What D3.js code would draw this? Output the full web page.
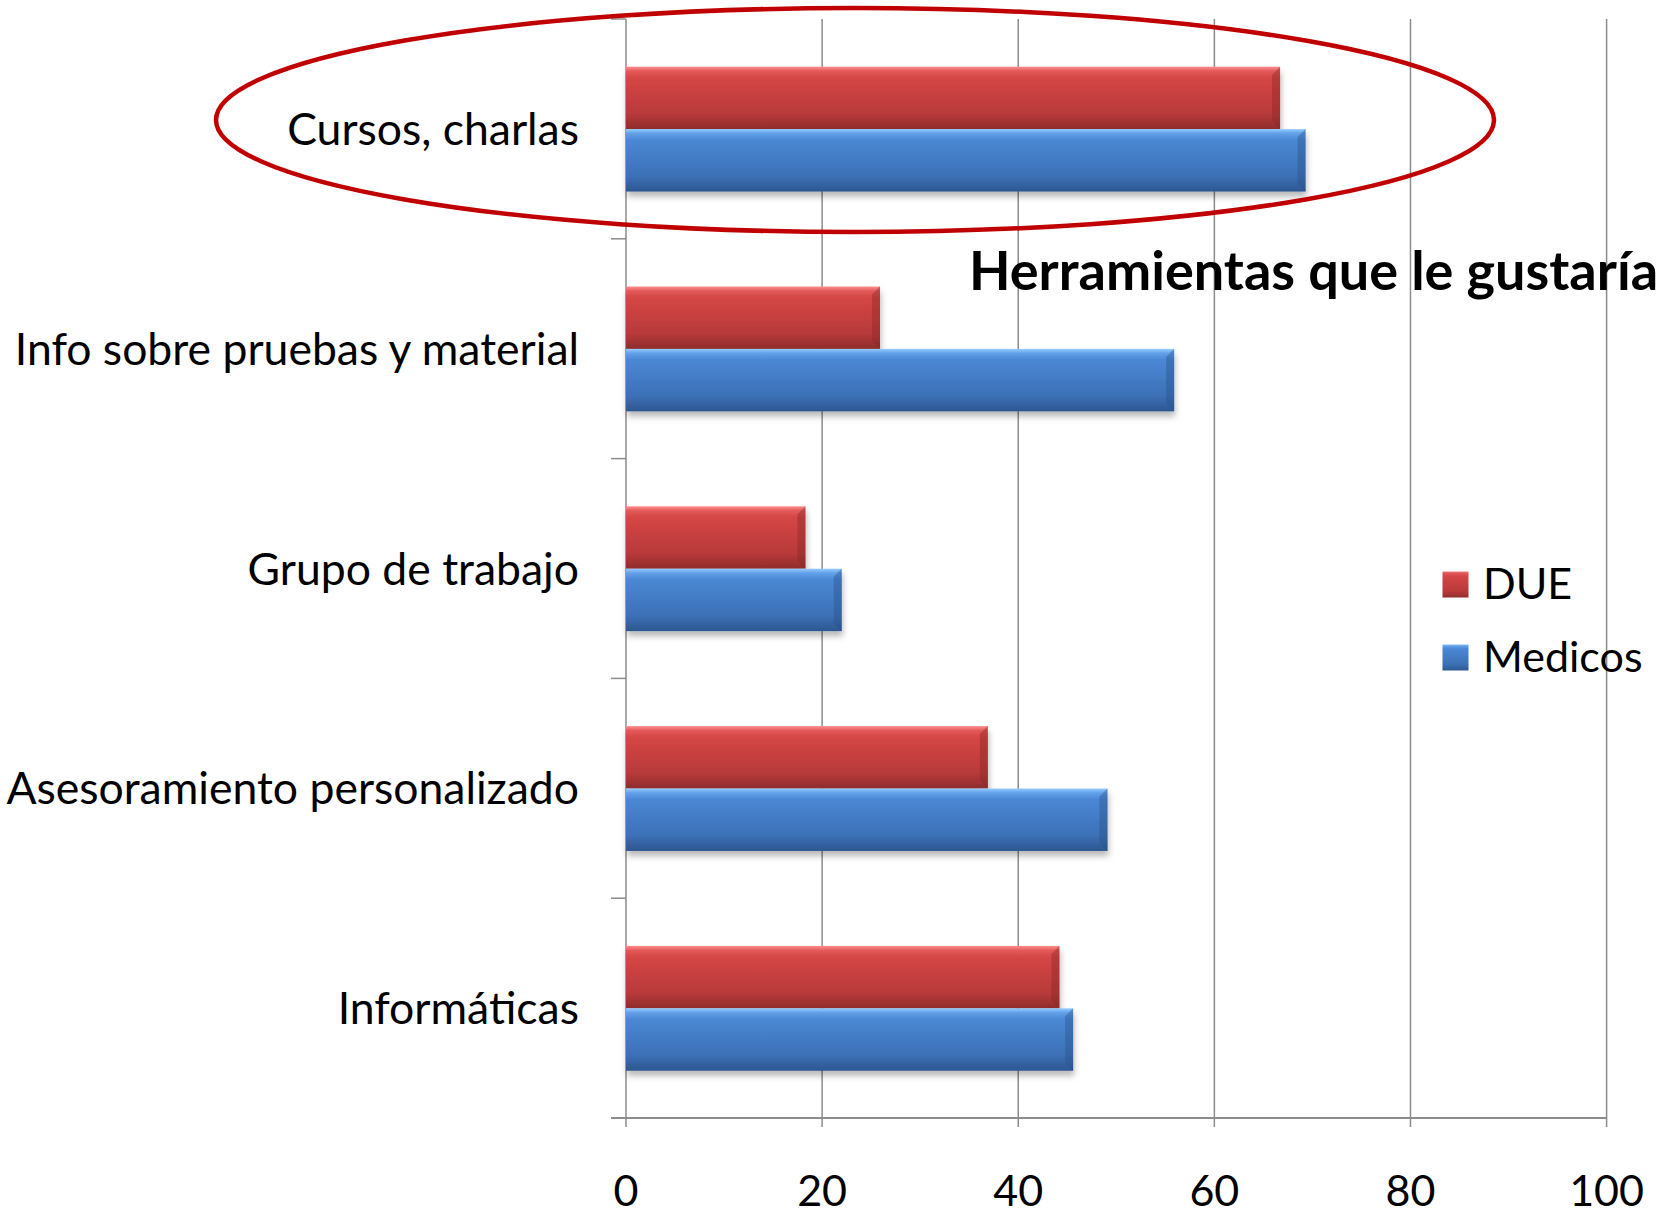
<!DOCTYPE html>
<html lang="es">
<head>
<meta charset="UTF-8">
<title>Herramientas que le gustaría</title>
<script src="https://d3js.org/d3.v7.min.js"></script>
<style>
    body { margin: 0; background: #fff; }
    text { font-family: Lato, "Open Sans", sans-serif; fill: #000; }
    .cat { font-size: 44.5px; }
    .tick-label { font-size: 43px; }
    .legend-text { font-size: 43px; }
    .title { font-size: 54px; font-weight: bold; }
</style>
</head>
<body>
<svg width="1675" height="1217"></svg>
<script>
    // data (percent)
    const categories = ["Cursos, charlas", "Info sobre pruebas y material", "Grupo de trabajo",
        "Asesoramiento personalizado", "Informáticas"];
    const seriesNames = ["DUE", "Medicos"];
    const due = [66.7, 25.9, 18.3, 36.9, 44.2];
    const medicos = [69.3, 55.9, 22.0, 49.1, 45.6];
    const xTicks = [0, 20, 40, 60, 80, 100];
    const titleText = "Herramientas que le gustaría";

    const svg = d3.select("svg");

    const plotLeft = 626, plotRight = 1606.6, plotTop = 19, plotBottom = 1118;

    const x = d3.scaleLinear().domain([0, 100]).range([plotLeft, plotRight]);
    const y = d3.scaleBand().domain(categories).range([plotTop, plotBottom]).padding(0);
    const bw = y.bandwidth();
    const y1 = d3.scaleBand().domain(seriesNames).range([bw * 0.217, bw * 0.785]).padding(0);

    // gradients and shadow
    const defs = svg.append("defs");
    const grads = {
        DUE: [["0%", "#ff8f8f"], ["7%", "#e35a5a"], ["18%", "#d54646"], ["75%", "#b83a3a"], ["100%", "#8f2c2c"]],
        Medicos: [["0%", "#93ccff"], ["7%", "#62a0e8"], ["18%", "#4a87d4"], ["75%", "#3c71b6"], ["100%", "#2d5690"]]
    };
    Object.entries(grads).forEach(([k, stops]) => {
        const g = defs.append("linearGradient").attr("id", "g-" + k)
            .attr("x1", 0).attr("y1", 0).attr("x2", 0).attr("y2", 1);
        stops.forEach(s => g.append("stop").attr("offset", s[0]).attr("stop-color", s[1]));
    });
    const f = defs.append("filter").attr("id", "shadow")
        .attr("x", "-5%").attr("y", "-20%").attr("width", "110%").attr("height", "160%");
    f.append("feDropShadow").attr("dx", 1).attr("dy", 5).attr("stdDeviation", 3)
        .attr("flood-color", "#000").attr("flood-opacity", 0.28);

    // gridlines
    svg.append("g").selectAll("line").data(xTicks).join("line")
        .attr("x1", d => x(d)).attr("x2", d => x(d))
        .attr("y1", plotTop).attr("y2", plotBottom + 9)
        .attr("stroke", "#8c8c8c").attr("stroke-width", 1.5);

    // horizontal axis line
    svg.append("line").attr("x1", plotLeft - 15).attr("x2", plotRight)
        .attr("y1", plotBottom).attr("y2", plotBottom)
        .attr("stroke", "#8c8c8c").attr("stroke-width", 2);

    // category tick marks
    const bounds = categories.map(c => y(c)).concat([plotBottom]);
    svg.append("g").selectAll("line").data(bounds).join("line")
        .attr("x1", plotLeft - 15).attr("x2", plotLeft)
        .attr("y1", d => d).attr("y2", d => d)
        .attr("stroke", "#8c8c8c").attr("stroke-width", 1.5);

    // bars
    const rows = categories.map((c, i) => ({ cat: c, vals: [{ s: "DUE", v: due[i] }, { s: "Medicos", v: medicos[i] }] }));
    const groups = svg.append("g").selectAll("g").data(rows).join("g")
        .attr("transform", d => `translate(0,${y(d.cat)})`);

    const bar = groups.selectAll("g").data(d => d.vals).join("g")
        .attr("filter", "url(#shadow)");
    const bh = y1.bandwidth();
    const bev = 8;
    bar.append("rect")
        .attr("x", plotLeft).attr("y", d => y1(d.s))
        .attr("width", d => x(d.v) - plotLeft).attr("height", bh)
        .attr("fill", d => "url(#g-" + d.s + ")");
    // right bevel
    bar.append("path")
        .attr("d", d => {
            const x2 = x(d.v), yy = y1(d.s);
            return `M${x2},${yy}L${x2 - bev},${yy + bev}L${x2 - bev},${yy + bh - bev}L${x2},${yy + bh}Z`;
        })
        .attr("fill", d => d.s === "DUE" ? "#8a2626" : "#2a5188").attr("opacity", 0.4);

    // category labels
    svg.append("g").selectAll("text").data(categories).join("text")
        .attr("class", "cat")
        .attr("x", 579).attr("y", d => y(d) + bw / 2 + 16)
        .attr("text-anchor", "end")
        .text(d => d);

    // x tick labels
    svg.append("g").selectAll("text").data(xTicks).join("text")
        .attr("class", "tick-label")
        .attr("x", d => x(d)).attr("y", 1206)
        .attr("text-anchor", "middle")
        .text(d => d);

    // title
    svg.append("text").attr("class", "title")
        .attr("x", 969).attr("y", 290).text(titleText);

    // legend
    const legend = svg.append("g").selectAll("g").data(seriesNames).join("g")
        .attr("transform", (d, i) => `translate(1442,${571 + i * 73})`);
    legend.append("rect").attr("width", 27).attr("height", 27)
        .attr("fill", d => "url(#g-" + d + ")").attr("stroke", "#fff").attr("stroke-width", 1);
    legend.append("text").attr("class", "legend-text")
        .attr("x", 41).attr("y", 28).text(d => d);

    // highlight ellipse
    svg.append("ellipse")
        .attr("cx", 855).attr("cy", 120).attr("rx", 639).attr("ry", 112)
        .attr("fill", "none").attr("stroke", "#c00000").attr("stroke-width", 4.5);
</script>
</body>
</html>
